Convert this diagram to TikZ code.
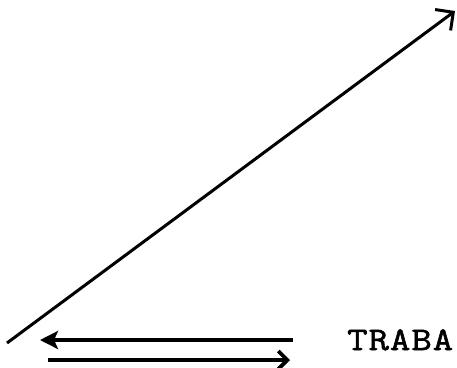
\documentclass[tikz,border=0pt]{standalone}
\usepackage{fontspec}
\usepackage{tikz}
\usetikzlibrary{arrows.meta}
\newfontfamily\typewriter[FakeStretch=1.2,FakeBold=1.8,LetterSpace=3]{Latin Modern Mono}

\begin{document}
\begin{tikzpicture}[x=1pt,y=-1pt]
  \useasboundingbox (0,0) rectangle (457,367);
  \clip (0,0) rectangle (457,367);
  \coordinate (start) at (7,343);
  \coordinate (top) at (455,11);
  \coordinate (leftend) at (293,340);
  \coordinate (lefttip) at (40,340);
  \coordinate (rightend) at (48,360);
  \coordinate (righttip) at (290,360);
  \draw[line width=3pt,-{Straight Barb[length=13pt,width=26pt]}] (start) -- (top);
  \draw[line width=4pt,-{Stealth[length=18pt,width=18pt,inset=4pt]}] (leftend) -- (lefttip);
  \draw[line width=3.8pt,-{Straight Barb[length=9pt,width=18pt]}] (rightend) -- (righttip);
  \node[font=\typewriter\fontsize{33}{34}\selectfont,anchor=base west,inner sep=0pt] (word) at (347,350) {TRABA};
\end{tikzpicture}
\end{document}
